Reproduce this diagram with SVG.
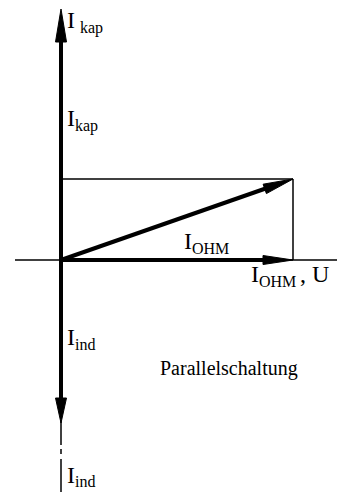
<svg xmlns="http://www.w3.org/2000/svg" width="337" height="492" viewBox="0 0 337 492">
<style>
.thin{stroke:#000;stroke-width:1.5;fill:none}
.thick{stroke:#000;stroke-width:4;fill:none}
.head{fill:#000;stroke:#000;stroke-width:1;stroke-linejoin:round}
.m{font-size:24px}
.s{font-size:16px}
.p{font-size:20px}
</style>
<rect width="337" height="492" fill="#fff"/>
<g id="axes">
<line class="thin" x1="15" y1="260" x2="337" y2="260"/>
<line class="thin" x1="61" y1="179" x2="293" y2="179"/>
<line class="thin" x1="293" y1="179" x2="293" y2="260"/>
<line class="thin" x1="61" y1="420" x2="61" y2="445"/>
<line class="thin" x1="61" y1="449" x2="61" y2="454"/>
<line class="thin" x1="61" y1="459" x2="61" y2="492"/>
</g>
<g id="connectors">
<line class="thick" x1="61" y1="40" x2="61" y2="400"/>
<polygon class="head" points="61,9 55.5,42 66.5,42"/>
<polygon class="head" points="61,423 55.5,398 66.5,398"/>
<line class="thick" x1="61" y1="260" x2="266" y2="260"/>
<polygon class="head" points="293,260 263,255.5 263,264.5"/>
<line class="thick" x1="61" y1="260" x2="267" y2="188"/>
<polygon class="head" points="293,179 266.4,193.6 263.1,184.2"/>
</g>
<g id="labels" font-family="'Liberation Serif', 'Times New Roman', 'DejaVu Serif', serif" fill="#000">
<text class="m" x="67" y="28">I<tspan class="s" x="80" y="33">kap</tspan></text>
<text class="m" x="67" y="126">I<tspan class="s" x="75" y="131">kap</tspan></text>
<text class="m" x="184" y="249">I<tspan class="s" x="192" y="254">OHM</tspan></text>
<text class="m" x="251" y="282">I<tspan class="s" x="259" y="287">OHM</tspan><tspan x="300" y="282">, U</tspan></text>
<text class="m" x="67" y="345">I<tspan class="s" x="75" y="350">ind</tspan></text>
<text class="m" x="67" y="483">I<tspan class="s" x="75" y="487">ind</tspan></text>
<text class="p" x="160" y="375">Parallelschaltung</text>
</g>
</svg>
